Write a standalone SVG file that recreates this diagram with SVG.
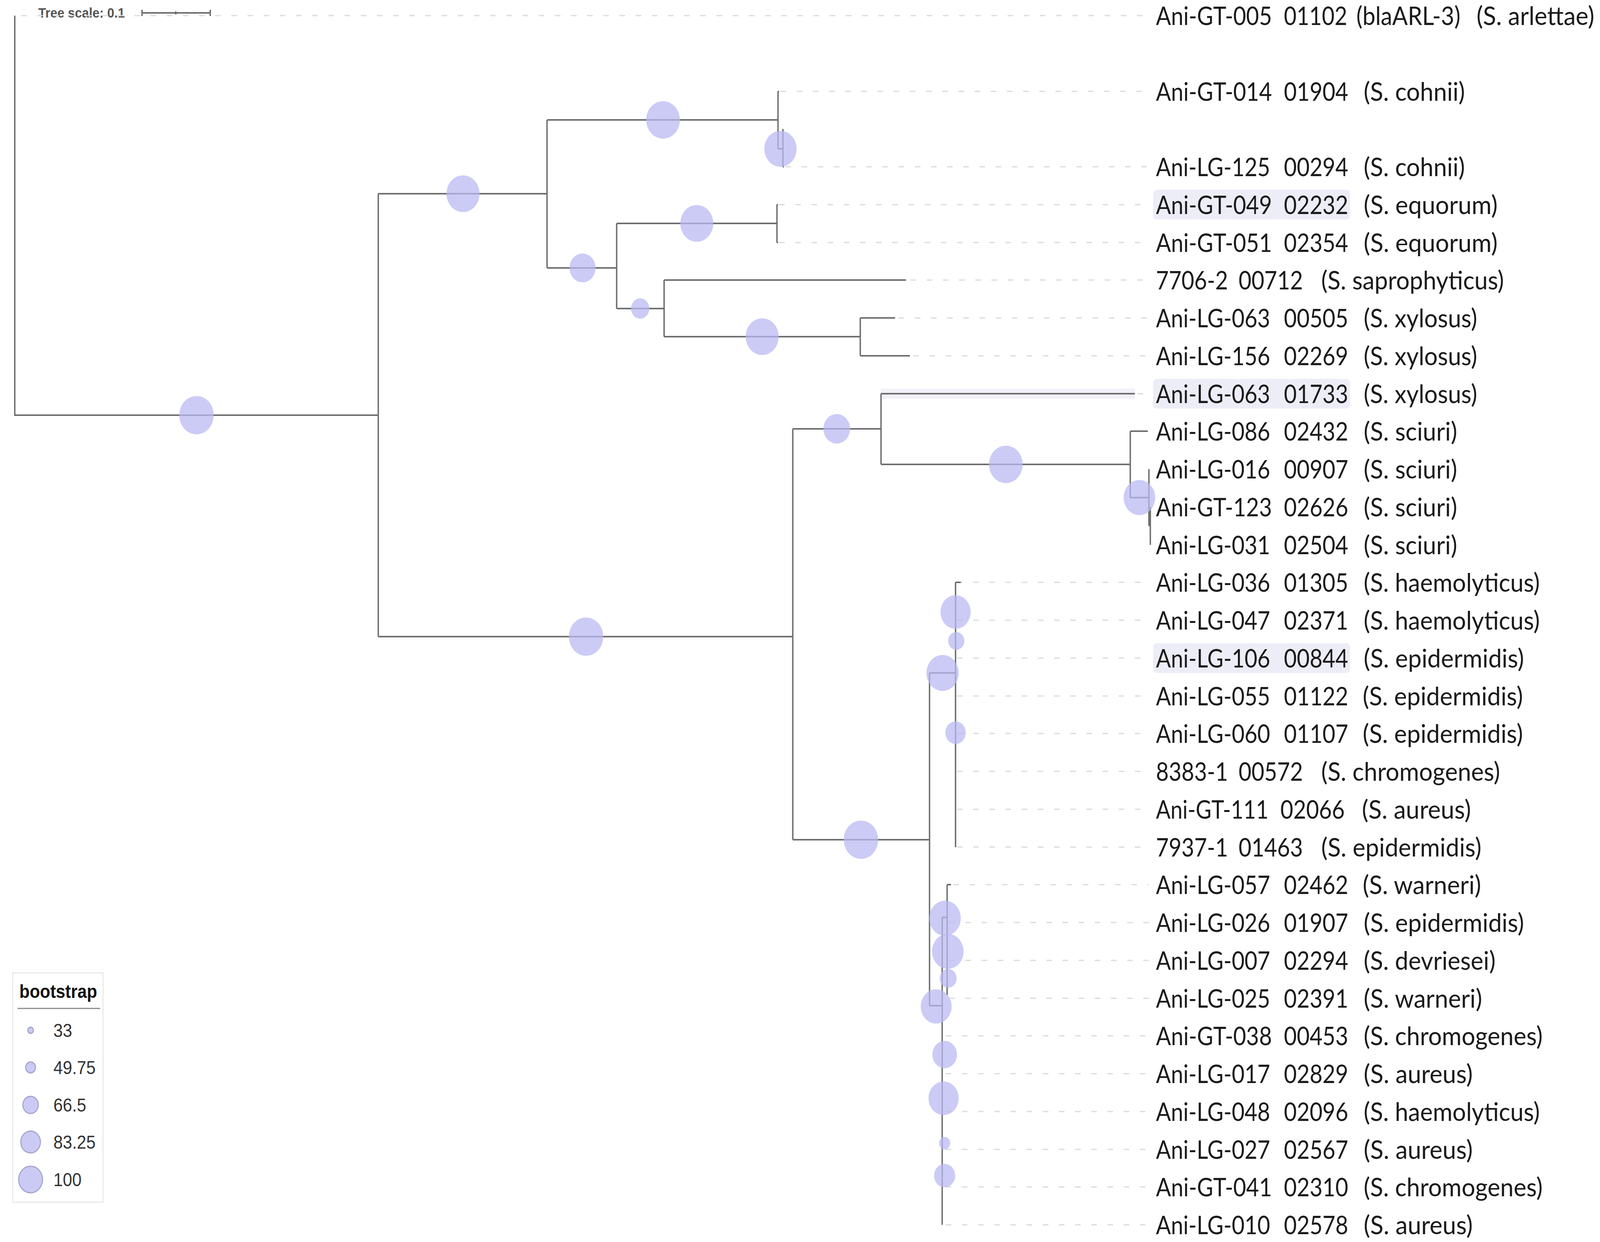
<svg xmlns="http://www.w3.org/2000/svg" width="4550" height="3180" viewBox="0 0 4550 3180">
<style>
.br{fill:none;stroke:#6e6e6e;stroke-width:4}
.ld{fill:none;stroke:#dadada;stroke-width:3;stroke-dasharray:16 30}
.bs{fill:#b9b9f3;fill-opacity:0.74}
.lb{font-family:Lato,"Liberation Sans",sans-serif;font-size:66px;fill:#1a1a1a}
.hl{fill:#ededf8}
.lgc{fill:#cacaf5;stroke:#a3a3cc;stroke-width:3}
.lgt{font-family:"Liberation Sans",Arial,sans-serif;font-size:48px;fill:#333}
</style>
<rect width="4550" height="3180" fill="#ffffff"/>
<g id="diagram" transform="matrix(0.9 0 0 1 0 0)">

<g id="scale">
<text x="109" y="45" font-family="Liberation Sans, Arial, sans-serif" font-size="36" font-weight="bold" fill="#555">Tree scale: 0.1</text>
<path class="br" d="M404 33H598M404 25V41M598 25V41M500 29V37" stroke-width="3"/>
</g>

<g id="leaders">
<path class="ld" d="M60 40H3268M2220 234H3268M2234 427H3268M2216 524H3268M2216 621H3268M2590 717H3268M2556 814H3268M2598 911H3268M3236 1008H3268
M2722 1491H3268M2722 1588H3268M2722 1685H3268M2722 1782H3268M2722 1878H3268M2722 1975H3268M2722 2072H3268M2722 2169H3268
M2712 2265H3268M2700 2362H3268M2700 2459H3268M2700 2556H3268M2690 2652H3268M2690 2749H3268M2690 2846H3268M2690 2943H3268M2690 3039H3268M2690 3136H3268"/>
</g>

<g id="branches">
<path d="M2506 1008H3228" fill="none" stroke="#f1f1f9" stroke-width="26"/>
<path class="br" d="M42 40V1063H1076"/>
<path class="br" d="M1076 496V1630"/>
<path class="br" d="M1076 496H1556"/>
<path class="br" d="M1556 307V686"/>
<path class="br" d="M1556 307H2213"/>
<path class="br" d="M2213 234V381M2213 234H2216"/>
<path class="br" d="M2213 381H2227M2227 330V427M2227 427H2230"/>
<path class="br" d="M1556 686H1754"/>
<path class="br" d="M1754 572V790"/>
<path class="br" d="M1754 572H2210M2210 524V621M2210 524H2213M2210 621H2213"/>
<path class="br" d="M1754 790H1889M1889 717V862"/>
<path class="br" d="M1889 717H2577"/>
<path class="br" d="M1889 862H2447M2447 814V911M2447 814H2546M2447 911H2588"/>
<path class="br" d="M1076 1630H2255M2255 1098V2150"/>
<path class="br" d="M2255 1098H2506M2506 1008V1189M2506 1008H3228"/>
<path class="br" d="M2506 1189H3215M3215 1104V1274M3215 1104H3265"/>
<path class="br" d="M3215 1274H3268M3268 1201V1346M3268 1346H3272M3272 1298V1395"/>
<path class="br" d="M2255 2150H2644M2644 1723V2575"/>
<path class="br" d="M2644 1723H2718M2718 1491V2169M2718 1491H2733"/>
<path class="br" d="M2644 2575H2680M2680 2349V3136"/>
<path class="br" d="M2680 2349H2694M2694 2265V2548M2694 2265H2705"/>
</g>

<g id="bootstrap">
<circle id="bs1" class="bs" cx="559" cy="1063" r="49"/>
<circle id="bs2" class="bs" cx="1317" cy="496" r="47"/>
<circle id="bs3" class="bs" cx="1886" cy="307" r="48"/>
<circle id="bs4" class="bs" cx="2220" cy="381" r="46"/>
<circle id="bs5" class="bs" cx="1982" cy="572" r="47"/>
<circle id="bs6" class="bs" cx="1657" cy="686" r="37"/>
<circle id="bs7" class="bs" cx="1821" cy="790" r="26"/>
<circle id="bs8" class="bs" cx="2168" cy="862" r="47"/>
<circle id="bs9" class="bs" cx="2380" cy="1098" r="38"/>
<circle id="bs10" class="bs" cx="2861" cy="1189" r="48"/>
<circle id="bs11" class="bs" cx="3241" cy="1274" r="45"/>
<circle id="bs12" class="bs" cx="1667" cy="1630" r="49"/>
<circle id="bs13" class="bs" cx="2449" cy="2150" r="49"/>
<circle id="bs14" class="bs" cx="2718" cy="1567" r="43"/>
<circle id="bs15" class="bs" cx="2720" cy="1641" r="23"/>
<circle id="bs16" class="bs" cx="2681" cy="1723" r="46"/>
<circle id="bs17" class="bs" cx="2718" cy="1876" r="29"/>
<circle id="bs18" class="bs" cx="2688" cy="2351" r="45"/>
<circle id="bs19" class="bs" cx="2696" cy="2436" r="45"/>
<circle id="bs20" class="bs" cx="2697" cy="2505" r="24"/>
<circle id="bs21" class="bs" cx="2663" cy="2577" r="44"/>
<circle id="bs22" class="bs" cx="2687" cy="2700" r="35"/>
<circle id="bs23" class="bs" cx="2684" cy="2812" r="43"/>
<circle id="bs24" class="bs" cx="2687" cy="2927" r="16"/>
<circle id="bs25" class="bs" cx="2687" cy="3010" r="30"/>
</g>

<g id="labels">
<g id="leaf-GT-005"><text class="lb" x="3288" y="64" textLength="330" lengthAdjust="spacingAndGlyphs">Ani-GT-005</text><text class="lb" x="3652" y="64" textLength="180" lengthAdjust="spacingAndGlyphs">01102</text><text class="lb" x="3858" y="64" textLength="296" lengthAdjust="spacingAndGlyphs">(blaARL-3)</text><text class="lb" x="4200" y="64" textLength="335" lengthAdjust="spacingAndGlyphs">(S. arlettae)</text></g>
<g id="leaf-GT-014"><text class="lb" x="3288" y="258" textLength="330" lengthAdjust="spacingAndGlyphs">Ani-GT-014</text><text class="lb" x="3652" y="258" textLength="183" lengthAdjust="spacingAndGlyphs">01904</text><text class="lb" x="3879" y="258" textLength="288" lengthAdjust="spacingAndGlyphs">(S. cohnii)</text></g>
<g id="leaf-LG-125"><text class="lb" x="3288" y="451" textLength="325" lengthAdjust="spacingAndGlyphs">Ani-LG-125</text><text class="lb" x="3652" y="451" textLength="183" lengthAdjust="spacingAndGlyphs">00294</text><text class="lb" x="3879" y="451" textLength="288" lengthAdjust="spacingAndGlyphs">(S. cohnii)</text></g>
<g id="leaf-GT-049"><rect class="hl" x="3280" y="486" width="560" height="76" rx="10"/><text class="lb" x="3288" y="548" textLength="330" lengthAdjust="spacingAndGlyphs" fill="#1c1c3a">Ani-GT-049</text><text class="lb" x="3652" y="548" textLength="183" lengthAdjust="spacingAndGlyphs" fill="#1c1c3a">02232</text><text class="lb" x="3879" y="548" textLength="381" lengthAdjust="spacingAndGlyphs">(S. equorum)</text></g>
<g id="leaf-GT-051"><text class="lb" x="3288" y="645" textLength="330" lengthAdjust="spacingAndGlyphs">Ani-GT-051</text><text class="lb" x="3652" y="645" textLength="183" lengthAdjust="spacingAndGlyphs">02354</text><text class="lb" x="3879" y="645" textLength="381" lengthAdjust="spacingAndGlyphs">(S. equorum)</text></g>
<g id="leaf-7706-2"><text class="lb" x="3288" y="741" textLength="205" lengthAdjust="spacingAndGlyphs">7706-2</text><text class="lb" x="3523" y="741" textLength="183" lengthAdjust="spacingAndGlyphs">00712</text><text class="lb" x="3758" y="741" textLength="520" lengthAdjust="spacingAndGlyphs">(S. saprophyticus)</text></g>
<g id="leaf-LG-063a"><text class="lb" x="3288" y="838" textLength="325" lengthAdjust="spacingAndGlyphs">Ani-LG-063</text><text class="lb" x="3652" y="838" textLength="183" lengthAdjust="spacingAndGlyphs">00505</text><text class="lb" x="3879" y="838" textLength="323" lengthAdjust="spacingAndGlyphs">(S. xylosus)</text></g>
<g id="leaf-LG-156"><text class="lb" x="3288" y="935" textLength="325" lengthAdjust="spacingAndGlyphs">Ani-LG-156</text><text class="lb" x="3652" y="935" textLength="183" lengthAdjust="spacingAndGlyphs">02269</text><text class="lb" x="3879" y="935" textLength="323" lengthAdjust="spacingAndGlyphs">(S. xylosus)</text></g>
<g id="leaf-LG-063b"><rect class="hl" x="3280" y="970" width="560" height="76" rx="10"/><text class="lb" x="3288" y="1032" textLength="325" lengthAdjust="spacingAndGlyphs" fill="#1c1c3a">Ani-LG-063</text><text class="lb" x="3652" y="1032" textLength="183" lengthAdjust="spacingAndGlyphs" fill="#1c1c3a">01733</text><text class="lb" x="3879" y="1032" textLength="323" lengthAdjust="spacingAndGlyphs">(S. xylosus)</text></g>
<g id="leaf-LG-086"><text class="lb" x="3288" y="1128" textLength="325" lengthAdjust="spacingAndGlyphs">Ani-LG-086</text><text class="lb" x="3652" y="1128" textLength="183" lengthAdjust="spacingAndGlyphs">02432</text><text class="lb" x="3879" y="1128" textLength="266" lengthAdjust="spacingAndGlyphs">(S. sciuri)</text></g>
<g id="leaf-LG-016"><text class="lb" x="3288" y="1225" textLength="325" lengthAdjust="spacingAndGlyphs">Ani-LG-016</text><text class="lb" x="3652" y="1225" textLength="183" lengthAdjust="spacingAndGlyphs">00907</text><text class="lb" x="3879" y="1225" textLength="266" lengthAdjust="spacingAndGlyphs">(S. sciuri)</text></g>
<g id="leaf-GT-123"><text class="lb" x="3288" y="1322" textLength="330" lengthAdjust="spacingAndGlyphs">Ani-GT-123</text><text class="lb" x="3652" y="1322" textLength="183" lengthAdjust="spacingAndGlyphs">02626</text><text class="lb" x="3879" y="1322" textLength="266" lengthAdjust="spacingAndGlyphs">(S. sciuri)</text></g>
<g id="leaf-LG-031"><text class="lb" x="3288" y="1419" textLength="325" lengthAdjust="spacingAndGlyphs">Ani-LG-031</text><text class="lb" x="3652" y="1419" textLength="183" lengthAdjust="spacingAndGlyphs">02504</text><text class="lb" x="3879" y="1419" textLength="266" lengthAdjust="spacingAndGlyphs">(S. sciuri)</text></g>
<g id="leaf-LG-036"><text class="lb" x="3288" y="1515" textLength="325" lengthAdjust="spacingAndGlyphs">Ani-LG-036</text><text class="lb" x="3652" y="1515" textLength="183" lengthAdjust="spacingAndGlyphs">01305</text><text class="lb" x="3879" y="1515" textLength="501" lengthAdjust="spacingAndGlyphs">(S. haemolyticus)</text></g>
<g id="leaf-LG-047"><text class="lb" x="3288" y="1612" textLength="325" lengthAdjust="spacingAndGlyphs">Ani-LG-047</text><text class="lb" x="3652" y="1612" textLength="183" lengthAdjust="spacingAndGlyphs">02371</text><text class="lb" x="3879" y="1612" textLength="501" lengthAdjust="spacingAndGlyphs">(S. haemolyticus)</text></g>
<g id="leaf-LG-106"><rect class="hl" x="3280" y="1647" width="560" height="76" rx="10"/><text class="lb" x="3288" y="1709" textLength="325" lengthAdjust="spacingAndGlyphs" fill="#1c1c3a">Ani-LG-106</text><text class="lb" x="3652" y="1709" textLength="183" lengthAdjust="spacingAndGlyphs" fill="#1c1c3a">00844</text><text class="lb" x="3879" y="1709" textLength="456" lengthAdjust="spacingAndGlyphs">(S. epidermidis)</text></g>
<g id="leaf-LG-055"><text class="lb" x="3288" y="1806" textLength="325" lengthAdjust="spacingAndGlyphs">Ani-LG-055</text><text class="lb" x="3652" y="1806" textLength="183" lengthAdjust="spacingAndGlyphs">01122</text><text class="lb" x="3876" y="1806" textLength="456" lengthAdjust="spacingAndGlyphs">(S. epidermidis)</text></g>
<g id="leaf-LG-060"><text class="lb" x="3288" y="1902" textLength="325" lengthAdjust="spacingAndGlyphs">Ani-LG-060</text><text class="lb" x="3652" y="1902" textLength="183" lengthAdjust="spacingAndGlyphs">01107</text><text class="lb" x="3876" y="1902" textLength="456" lengthAdjust="spacingAndGlyphs">(S. epidermidis)</text></g>
<g id="leaf-8383-1"><text class="lb" x="3288" y="1999" textLength="205" lengthAdjust="spacingAndGlyphs">8383-1</text><text class="lb" x="3523" y="1999" textLength="183" lengthAdjust="spacingAndGlyphs">00572</text><text class="lb" x="3758" y="1999" textLength="509" lengthAdjust="spacingAndGlyphs">(S. chromogenes)</text></g>
<g id="leaf-GT-111"><text class="lb" x="3288" y="2096" textLength="320" lengthAdjust="spacingAndGlyphs">Ani-GT-111</text><text class="lb" x="3642" y="2096" textLength="183" lengthAdjust="spacingAndGlyphs">02066</text><text class="lb" x="3874" y="2096" textLength="310" lengthAdjust="spacingAndGlyphs">(S. aureus)</text></g>
<g id="leaf-7937-1"><text class="lb" x="3288" y="2193" textLength="205" lengthAdjust="spacingAndGlyphs">7937-1</text><text class="lb" x="3523" y="2193" textLength="183" lengthAdjust="spacingAndGlyphs">01463</text><text class="lb" x="3758" y="2193" textLength="456" lengthAdjust="spacingAndGlyphs">(S. epidermidis)</text></g>
<g id="leaf-LG-057"><text class="lb" x="3288" y="2289" textLength="325" lengthAdjust="spacingAndGlyphs">Ani-LG-057</text><text class="lb" x="3652" y="2289" textLength="183" lengthAdjust="spacingAndGlyphs">02462</text><text class="lb" x="3876" y="2289" textLength="337" lengthAdjust="spacingAndGlyphs">(S. warneri)</text></g>
<g id="leaf-LG-026"><text class="lb" x="3288" y="2386" textLength="325" lengthAdjust="spacingAndGlyphs">Ani-LG-026</text><text class="lb" x="3652" y="2386" textLength="183" lengthAdjust="spacingAndGlyphs">01907</text><text class="lb" x="3879" y="2386" textLength="456" lengthAdjust="spacingAndGlyphs">(S. epidermidis)</text></g>
<g id="leaf-LG-007"><text class="lb" x="3288" y="2483" textLength="325" lengthAdjust="spacingAndGlyphs">Ani-LG-007</text><text class="lb" x="3652" y="2483" textLength="183" lengthAdjust="spacingAndGlyphs">02294</text><text class="lb" x="3879" y="2483" textLength="375" lengthAdjust="spacingAndGlyphs">(S. devriesei)</text></g>
<g id="leaf-LG-025"><text class="lb" x="3288" y="2580" textLength="325" lengthAdjust="spacingAndGlyphs">Ani-LG-025</text><text class="lb" x="3652" y="2580" textLength="183" lengthAdjust="spacingAndGlyphs">02391</text><text class="lb" x="3879" y="2580" textLength="337" lengthAdjust="spacingAndGlyphs">(S. warneri)</text></g>
<g id="leaf-GT-038"><text class="lb" x="3288" y="2676" textLength="330" lengthAdjust="spacingAndGlyphs">Ani-GT-038</text><text class="lb" x="3652" y="2676" textLength="183" lengthAdjust="spacingAndGlyphs">00453</text><text class="lb" x="3879" y="2676" textLength="509" lengthAdjust="spacingAndGlyphs">(S. chromogenes)</text></g>
<g id="leaf-LG-017"><text class="lb" x="3288" y="2773" textLength="325" lengthAdjust="spacingAndGlyphs">Ani-LG-017</text><text class="lb" x="3652" y="2773" textLength="183" lengthAdjust="spacingAndGlyphs">02829</text><text class="lb" x="3879" y="2773" textLength="310" lengthAdjust="spacingAndGlyphs">(S. aureus)</text></g>
<g id="leaf-LG-048"><text class="lb" x="3288" y="2870" textLength="325" lengthAdjust="spacingAndGlyphs">Ani-LG-048</text><text class="lb" x="3652" y="2870" textLength="183" lengthAdjust="spacingAndGlyphs">02096</text><text class="lb" x="3879" y="2870" textLength="501" lengthAdjust="spacingAndGlyphs">(S. haemolyticus)</text></g>
<g id="leaf-LG-027"><text class="lb" x="3288" y="2967" textLength="325" lengthAdjust="spacingAndGlyphs">Ani-LG-027</text><text class="lb" x="3652" y="2967" textLength="183" lengthAdjust="spacingAndGlyphs">02567</text><text class="lb" x="3879" y="2967" textLength="310" lengthAdjust="spacingAndGlyphs">(S. aureus)</text></g>
<g id="leaf-GT-041"><text class="lb" x="3288" y="3063" textLength="330" lengthAdjust="spacingAndGlyphs">Ani-GT-041</text><text class="lb" x="3652" y="3063" textLength="183" lengthAdjust="spacingAndGlyphs">02310</text><text class="lb" x="3879" y="3063" textLength="509" lengthAdjust="spacingAndGlyphs">(S. chromogenes)</text></g>
<g id="leaf-LG-010"><text class="lb" x="3288" y="3160" textLength="325" lengthAdjust="spacingAndGlyphs">Ani-LG-010</text><text class="lb" x="3652" y="3160" textLength="183" lengthAdjust="spacingAndGlyphs">02578</text><text class="lb" x="3879" y="3160" textLength="310" lengthAdjust="spacingAndGlyphs">(S. aureus)</text></g>
</g>

<g id="legend">
<rect x="36" y="2491" width="257" height="587" fill="#ffffff" stroke="#e8e8e8" stroke-width="3"/>
<text x="55" y="2555" font-family="Liberation Sans, Arial, sans-serif" font-size="48" font-weight="bold" fill="#111">bootstrap</text>
<path d="M50 2582H285" stroke="#8a8a8a" stroke-width="3"/>
<circle class="lgc" cx="87" cy="2638" r="8"/>
<text class="lgt" x="152" y="2655">33</text>
<circle class="lgc" cx="87" cy="2733" r="14"/>
<text class="lgt" x="152" y="2750">49.75</text>
<circle class="lgc" cx="87" cy="2829" r="22"/>
<text class="lgt" x="152" y="2846">66.5</text>
<circle class="lgc" cx="87" cy="2924" r="28"/>
<text class="lgt" x="152" y="2941">83.25</text>
<circle class="lgc" cx="87" cy="3020" r="34"/>
<text class="lgt" x="152" y="3037">100</text>
</g>
</g>
</svg>
